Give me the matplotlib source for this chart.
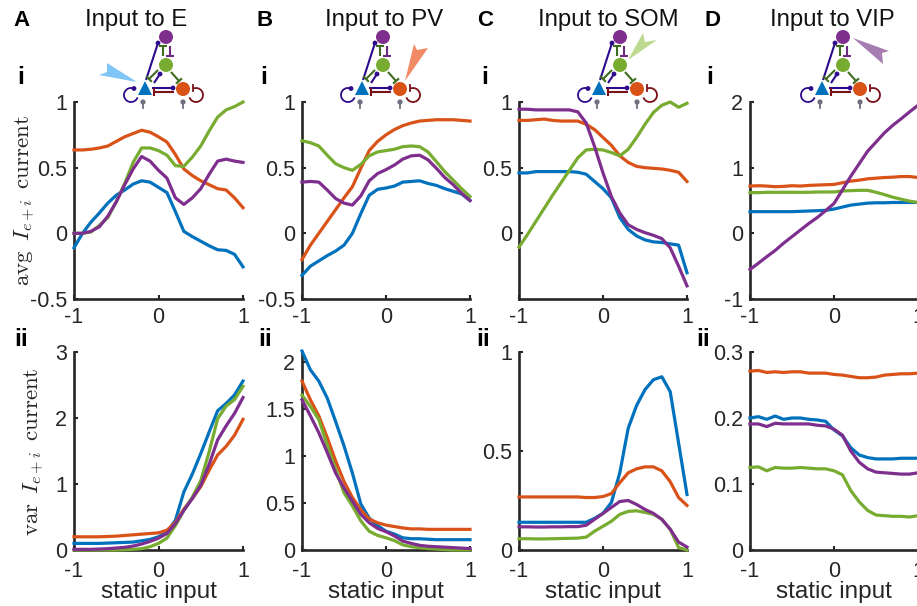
import numpy as np
import matplotlib
matplotlib.use("Agg")
import matplotlib.pyplot as plt
from matplotlib.patches import Circle, Polygon, Arc

W, H = 917, 606
x_input = np.round(np.arange(-1, 1.01, 0.1), 1)

# --- Panel A ---
a_avg_e = [-0.11, 0.0, 0.085, 0.155, 0.23, 0.29, 0.33, 0.375, 0.40, 0.39, 0.35, 0.31, 0.165, 0.015, -0.025, -0.06, -0.095, -0.125, -0.13, -0.16, -0.255]
a_avg_pv = [0.635, 0.635, 0.64, 0.65, 0.665, 0.70, 0.735, 0.76, 0.785, 0.77, 0.735, 0.695, 0.60, 0.49, 0.44, 0.40, 0.37, 0.34, 0.33, 0.27, 0.195]
a_avg_som = [0.0, 0.0, 0.01, 0.06, 0.12, 0.24, 0.38, 0.54, 0.65, 0.65, 0.63, 0.595, 0.515, 0.51, 0.58, 0.665, 0.78, 0.885, 0.94, 0.965, 1.0]
a_avg_vip = [0.0, 0.0, 0.015, 0.05, 0.13, 0.24, 0.37, 0.49, 0.585, 0.55, 0.48, 0.42, 0.27, 0.22, 0.27, 0.34, 0.45, 0.55, 0.565, 0.55, 0.54]
a_var_e = [0.1, 0.1, 0.1, 0.1, 0.105, 0.11, 0.115, 0.12, 0.14, 0.16, 0.2, 0.27, 0.45, 0.88, 1.15, 1.46, 1.79, 2.11, 2.22, 2.35, 2.56]
a_var_pv = [0.2, 0.2, 0.2, 0.2, 0.205, 0.21, 0.22, 0.23, 0.24, 0.25, 0.26, 0.30, 0.42, 0.62, 0.78, 0.96, 1.21, 1.44, 1.57, 1.74, 1.98]
a_var_som = [0.0, 0.0, 0.0, 0.0, 0.0, 0.0, 0.005, 0.01, 0.02, 0.05, 0.1, 0.18, 0.37, 0.6, 0.8, 1.05, 1.49, 1.99, 2.18, 2.28, 2.48]
a_var_vip = [0.01, 0.01, 0.01, 0.015, 0.02, 0.03, 0.04, 0.06, 0.09, 0.13, 0.18, 0.25, 0.4, 0.6, 0.78, 0.98, 1.3, 1.67, 1.88, 2.07, 2.31]

# --- Panel B ---
b_avg_e = [-0.32, -0.25, -0.21, -0.17, -0.135, -0.09, 0.0, 0.15, 0.29, 0.335, 0.345, 0.36, 0.39, 0.395, 0.40, 0.38, 0.365, 0.34, 0.32, 0.30, 0.25]
b_avg_pv = [-0.2, -0.09, 0.0, 0.09, 0.18, 0.27, 0.355, 0.495, 0.63, 0.70, 0.75, 0.79, 0.82, 0.84, 0.855, 0.86, 0.865, 0.865, 0.865, 0.86, 0.855]
b_avg_som = [0.705, 0.69, 0.665, 0.595, 0.53, 0.50, 0.48, 0.525, 0.59, 0.62, 0.63, 0.64, 0.66, 0.665, 0.66, 0.62, 0.545, 0.47, 0.405, 0.34, 0.28]
b_avg_vip = [0.39, 0.395, 0.39, 0.33, 0.265, 0.23, 0.215, 0.285, 0.40, 0.455, 0.485, 0.52, 0.565, 0.59, 0.595, 0.56, 0.495, 0.425, 0.37, 0.305, 0.25]
b_var_e = [2.12, 1.92, 1.80, 1.62, 1.37, 1.11, 0.82, 0.49, 0.34, 0.26, 0.20, 0.17, 0.13, 0.12, 0.12, 0.115, 0.11, 0.11, 0.11, 0.11, 0.11]
b_var_pv = [1.8, 1.6, 1.43, 1.2, 0.95, 0.73, 0.56, 0.43, 0.33, 0.29, 0.265, 0.25, 0.235, 0.225, 0.225, 0.22, 0.22, 0.22, 0.22, 0.22, 0.22]
b_var_som = [1.65, 1.53, 1.39, 1.12, 0.86, 0.61, 0.47, 0.31, 0.20, 0.155, 0.13, 0.10, 0.055, 0.035, 0.025, 0.015, 0.01, 0.005, 0.0, 0.0, 0.0]
b_var_vip = [1.60, 1.43, 1.25, 1.04, 0.82, 0.66, 0.52, 0.38, 0.29, 0.23, 0.195, 0.15, 0.095, 0.07, 0.05, 0.04, 0.035, 0.03, 0.025, 0.02, 0.015]

# --- Panel C ---
c_avg_e = [0.46, 0.46, 0.47, 0.47, 0.47, 0.47, 0.47, 0.465, 0.45, 0.395, 0.34, 0.27, 0.12, 0.03, -0.02, -0.05, -0.065, -0.07, -0.08, -0.09, -0.30]
c_avg_pv = [0.86, 0.86, 0.865, 0.87, 0.86, 0.855, 0.855, 0.855, 0.83, 0.79, 0.73, 0.67, 0.59, 0.54, 0.51, 0.50, 0.495, 0.49, 0.48, 0.465, 0.395]
c_avg_som = [-0.105, -0.01, 0.09, 0.19, 0.29, 0.385, 0.48, 0.575, 0.635, 0.64, 0.635, 0.615, 0.59, 0.64, 0.73, 0.83, 0.92, 0.975, 1.0, 0.96, 0.99]
c_avg_vip = [0.945, 0.945, 0.94, 0.94, 0.94, 0.94, 0.94, 0.925, 0.84, 0.66, 0.46, 0.28, 0.155, 0.065, 0.03, 0.005, -0.015, -0.04, -0.11, -0.25, -0.40]
c_var_e = [0.14, 0.14, 0.14, 0.14, 0.14, 0.14, 0.14, 0.14, 0.14, 0.16, 0.185, 0.24, 0.39, 0.615, 0.73, 0.81, 0.86, 0.875, 0.80, 0.54, 0.28]
c_var_pv = [0.268, 0.268, 0.268, 0.268, 0.268, 0.268, 0.268, 0.268, 0.265, 0.265, 0.27, 0.285, 0.34, 0.39, 0.41, 0.42, 0.42, 0.40, 0.345, 0.265, 0.225]
c_var_som = [0.057, 0.057, 0.056, 0.056, 0.057, 0.058, 0.059, 0.06, 0.065, 0.095, 0.12, 0.145, 0.18, 0.195, 0.198, 0.19, 0.18, 0.155, 0.105, 0.012, 0.0]
c_var_vip = [0.117, 0.117, 0.116, 0.116, 0.117, 0.117, 0.118, 0.118, 0.125, 0.155, 0.185, 0.215, 0.245, 0.25, 0.23, 0.205, 0.185, 0.155, 0.105, 0.04, 0.015]

# --- Panel D ---
d_avg_e = [0.33, 0.33, 0.33, 0.33, 0.33, 0.33, 0.335, 0.34, 0.345, 0.35, 0.37, 0.40, 0.43, 0.445, 0.46, 0.465, 0.465, 0.47, 0.47, 0.47, 0.47]
d_avg_pv = [0.72, 0.725, 0.72, 0.71, 0.715, 0.725, 0.72, 0.73, 0.735, 0.74, 0.745, 0.77, 0.795, 0.81, 0.83, 0.84, 0.85, 0.855, 0.865, 0.865, 0.85]
d_avg_som = [0.62, 0.62, 0.625, 0.625, 0.625, 0.625, 0.625, 0.625, 0.63, 0.63, 0.63, 0.645, 0.65, 0.655, 0.655, 0.625, 0.59, 0.55, 0.52, 0.49, 0.47]
d_avg_vip = [-0.55, -0.455, -0.355, -0.26, -0.15, -0.05, 0.05, 0.15, 0.24, 0.345, 0.455, 0.66, 0.87, 1.06, 1.25, 1.39, 1.53, 1.645, 1.745, 1.85, 1.95]
d_var_e = [0.2, 0.202, 0.198, 0.203, 0.198, 0.2, 0.2, 0.198, 0.197, 0.195, 0.182, 0.173, 0.155, 0.144, 0.14, 0.138, 0.138, 0.138, 0.139, 0.139, 0.139]
d_var_pv = [0.271, 0.272, 0.269, 0.27, 0.269, 0.27, 0.27, 0.268, 0.268, 0.268, 0.266, 0.265, 0.263, 0.261, 0.261, 0.262, 0.265, 0.266, 0.267, 0.267, 0.268]
d_var_som = [0.125, 0.126, 0.12, 0.125, 0.124, 0.124, 0.125, 0.124, 0.123, 0.123, 0.12, 0.114, 0.09, 0.073, 0.06, 0.053, 0.052, 0.051, 0.051, 0.05, 0.052]
d_var_vip = [0.191, 0.191, 0.187, 0.192, 0.191, 0.191, 0.191, 0.191, 0.189, 0.188, 0.183, 0.174, 0.15, 0.133, 0.123, 0.118, 0.117, 0.116, 0.115, 0.115, 0.117]

titles = ["Input to E", "Input to PV", "Input to SOM", "Input to VIP"]
panel_letters = ["A", "B", "C", "D"]
xtick_vals = [-1, 0, 1]

avg_series = [
    [a_avg_e, a_avg_pv, a_avg_som, a_avg_vip],
    [b_avg_e, b_avg_pv, b_avg_som, b_avg_vip],
    [c_avg_e, c_avg_pv, c_avg_som, c_avg_vip],
    [d_avg_e, d_avg_pv, d_avg_som, d_avg_vip],
]
var_series = [
    [a_var_e, a_var_pv, a_var_som, a_var_vip],
    [b_var_e, b_var_pv, b_var_som, b_var_vip],
    [c_var_e, c_var_pv, c_var_som, c_var_vip],
    [d_var_e, d_var_pv, d_var_som, d_var_vip],
]
avg_ylims = [(-0.5, 1), (-0.5, 1), (-0.5, 1), (-1, 2)]
avg_ticks = [[-0.5, 0, 0.5, 1], [-0.5, 0, 0.5, 1], [0, 0.5, 1], [-1, 0, 1, 2]]
var_ylims = [(0, 3), (0, 2.11), (0, 1), (0, 0.3)]
var_ticks = [[0, 1, 2, 3], [0, 0.5, 1, 1.5, 2], [0, 0.5, 1], [0, 0.1, 0.2, 0.3]]

C_E, C_PV, C_SOM, C_VIP = "#0072BD", "#D95319", "#77AC30", "#7E2F8E"
colors = [C_E, C_PV, C_SOM, C_VIP]
INK = "#262626"

# layout, in reference pixels
col_left = [74, 302, 519, 750]
col_right = [243, 470, 687, 918]
top_row = (102, 299)
bot_row = (352, 550)
title_x = [136, 384, 608, 832]
letter_x = [13, 257, 477, 704]
roman_x = [21, 264, 485, 710]
ii_x = [21, 265, 483, 703]
net_dx = [0, 217, 454, 677]

plt.rcParams["font.family"] = ["Liberation Sans", "DejaVu Sans"]
plt.rcParams["mathtext.fontset"] = "cm"

fig = plt.figure(figsize=(W / 100, H / 100), dpi=100)


def fmt(v):
    return f"{v:g}"


def make_axes(col, row, ylim, yticks, series, xpad, xlabel=False):
    l, r = col_left[col], col_right[col]
    t, b = row
    ax = fig.add_axes([l / W, 1 - b / H, (r - l) / W, (b - t) / H])
    for vals, c in zip(series, colors):
        ax.plot(x_input, vals, color=c, lw=2.3, solid_joinstyle="round", clip_on=False, zorder=3)
    ax.set_xlim(-1, 1)
    ax.set_ylim(*ylim)
    ax.set_xticks(xtick_vals, [fmt(v) for v in xtick_vals])
    ax.set_yticks(yticks, [fmt(v) for v in yticks])
    ax.spines["top"].set_visible(False)
    ax.spines["right"].set_visible(False)
    for s in ("left", "bottom"):
        ax.spines[s].set_linewidth(1.9)
        ax.spines[s].set_color(INK)
        ax.spines[s].set_zorder(2)
    ax.tick_params(axis="both", direction="in", length=3, width=1.5, color=INK,
                   labelcolor=INK, labelsize=15.5)
    ax.tick_params(axis="x", pad=xpad)
    ax.tick_params(axis="y", pad=5)
    ax.patch.set_alpha(0)
    if xlabel:
        ax.set_xlabel("static input", fontsize=17.5, color=INK, labelpad=-1)
    return ax


for c in range(4):
    make_axes(c, top_row, avg_ylims[c], avg_ticks[c], avg_series[c], xpad=6)
    make_axes(c, bot_row, var_ylims[c], var_ticks[c], var_series[c], xpad=8, xlabel=True)

# overlay in reference pixel coordinates for labels and the network schematics
ov = fig.add_axes([0, 0, 1, 1], zorder=10)
ov.set_xlim(0, W)
ov.set_ylim(H, 0)
ov.axis("off")
ov.patch.set_alpha(0)

for c in range(4):
    ov.text(title_x[c], 20, titles[c], fontsize=17.2, ha="center", va="center", color="#111111")
    ov.text(letter_x[c], 20, panel_letters[c], fontsize=16, fontweight="bold", ha="left", va="center", color="black")
    ov.text(roman_x[c], 77, "i", fontsize=17.5, fontweight="bold", ha="center", va="center", color="black")
    ov.text(ii_x[c], 340, "ii", fontsize=17.5, fontweight="bold", ha="center", va="center", color="black")

ov.text(25, 200, r"$\mathrm{avg}\ \,I_{e+i}\ \,\mathrm{current}$", fontsize=16.5, rotation=90,
        ha="center", va="center", color=INK)
ov.text(34, 452, r"$\mathrm{var}\ \,I_{e+i}\ \,\mathrm{current}$", fontsize=16.5, rotation=90,
        ha="center", va="center", color=INK)

EXC = "#2E0A8C"
SOMI = "#3F6B1E"
VIPI = "#6A2A80"
PVI = "#7A1018"
GREY = "#6E7080"


def seg(dx, p, q, color, end=None, lw=1.5):
    ov.plot([p[0] + dx, q[0] + dx], [p[1], q[1]], color=color, lw=lw, solid_capstyle="butt", zorder=2)
    if end == "dot":
        ov.add_patch(Circle((q[0] + dx, q[1]), 2.4, fc=color, ec="none", zorder=3))
    elif end == "bar":
        v = np.array(q, float) - np.array(p, float)
        v /= np.hypot(*v)
        n = np.array([-v[1], v[0]]) * 4.0
        ov.plot([q[0] + dx - n[0], q[0] + dx + n[0]], [q[1] - n[1], q[1] + n[1]],
                color=color, lw=lw, solid_capstyle="butt", zorder=2)


def network(dx, pointer, pointer_color):
    ov.add_patch(Polygon(pointer, closed=True, fc=pointer_color, ec="none", zorder=1))
    seg(dx, (146, 80), (158, 43), EXC, "dot")
    seg(dx, (163, 56), (163, 46), SOMI, "bar")
    seg(dx, (170, 46), (170, 56), VIPI, "bar")
    seg(dx, (158, 70), (149, 79), SOMI, "bar")
    seg(dx, (154, 83), (160, 74), EXC, "dot")
    seg(dx, (171, 72), (179, 81), SOMI, "bar")
    seg(dx, (152, 88), (173, 88), EXC, "dot")
    seg(dx, (174, 92), (154, 92), PVI, "bar")
    ov.add_patch(Arc((131 + dx, 95), 14, 14, theta1=20, theta2=290, ec=EXC, lw=1.3, zorder=2))
    ov.add_patch(Circle((134 + dx, 88.5), 2.4, fc=EXC, ec="none", zorder=3))
    ov.add_patch(Arc((196 + dx, 95), 14, 14, theta1=-110, theta2=160, ec=PVI, lw=1.3, zorder=2))
    ov.plot([193 + dx, 193 + dx], [84.5, 91], color=PVI, lw=1.3, zorder=2)
    for px in (143, 183):
        ov.plot([px + dx, px + dx], [101, 108], color=GREY, lw=1.3, zorder=2)
        ov.add_patch(Circle((px + dx, 102), 2.6, fc=GREY, ec="none", zorder=3))
    ov.add_patch(Circle((166 + dx, 37), 7, fc=C_VIP, ec="none", zorder=4))
    ov.add_patch(Circle((166 + dx, 65), 7, fc=C_SOM, ec="none", zorder=4))
    ov.add_patch(Circle((183 + dx, 89), 7, fc=C_PV, ec="none", zorder=4))
    ov.add_patch(Polygon([(145 + dx, 81), (138 + dx, 95), (152 + dx, 95)], closed=True,
                         fc=C_E, ec="none", zorder=4))


pointers = [
    ([(137, 82), (107, 63), (107, 72), (99, 75)], "#7FC6F7"),
    ([(405, 81), (414, 44), (417, 50), (428, 48)], "#F28A66"),
    ([(628, 60), (657, 40), (645, 42), (643, 33)], "#BCD98F"),
    ([(853, 38), (889, 51), (882, 53), (883, 64)], "#A67DB0"),
]
for c in range(4):
    network(net_dx[c], pointers[c][0], pointers[c][1])

fig.savefig("out.png", dpi=100)
